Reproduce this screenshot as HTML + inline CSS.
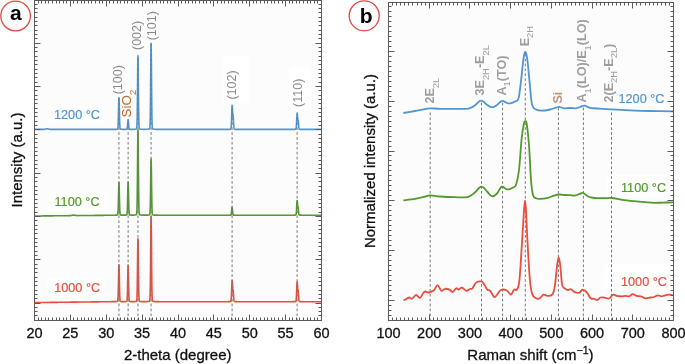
<!DOCTYPE html>
<html><head><meta charset="utf-8"><style>
html,body{margin:0;padding:0;background:#fff;width:685px;height:364px;overflow:hidden}
svg{display:block;will-change:transform}
text{font-family:"Liberation Sans",sans-serif}
</style></head><body>
<svg width="685" height="364" viewBox="0 0 685 364" font-family="Liberation Sans, sans-serif">
<rect width="685" height="364" fill="#fff"/>
<rect x="34.5" y="0.5" width="287" height="320" fill="#fcfcfc"/>
<rect x="388.5" y="2.5" width="285" height="318" fill="#fcfcfc"/>
<rect x="47.6" y="106.1" width="56.2" height="17.5" fill="#fff"/><rect x="47.7" y="191.7" width="58.4" height="19.3" fill="#fff"/><rect x="47.5" y="278.5" width="57.0" height="18.5" fill="#fff"/><rect x="223.2" y="56.6" width="25.6" height="46.2" fill="#fff"/><rect x="289" y="67.4" width="21.5" height="42.1" fill="#fff"/><rect x="606.4" y="175.2" width="60.2" height="21.8" fill="#fff"/><rect x="603.8" y="264.3" width="64.2" height="24.7" fill="#fff"/>
<path d="M35.00 129.40L35.50 129.40L36.00 129.40L36.50 129.40L37.00 129.40L37.50 129.40L38.00 129.40L38.50 129.40L39.00 129.40L39.50 129.40L40.00 129.40L40.50 129.40L41.00 129.40L41.50 129.40L42.00 129.40L42.50 129.40L43.00 129.39L43.50 129.37L44.00 129.34L44.50 129.28L45.00 129.19L45.50 129.08L46.00 128.96L46.50 128.86L47.00 128.80L47.50 128.81L48.00 128.88L48.50 128.99L49.00 129.11L49.50 129.21L50.00 129.29L50.50 129.35L51.00 129.38L51.50 129.39L52.00 129.40L52.50 129.40L53.00 129.40L53.50 129.40L54.00 129.40L54.50 129.40L55.00 129.40L55.50 129.40L56.00 129.40L56.50 129.40L57.00 129.40L57.50 129.40L58.00 129.40L58.50 129.40L59.00 129.40L59.50 129.40L60.00 129.40L60.50 129.40L61.00 129.40L61.50 129.40L62.00 129.40L62.50 129.40L63.00 129.40L63.50 129.40L64.00 129.40L64.50 129.40L65.00 129.40L65.50 129.40L66.00 129.40L66.50 129.40L67.00 129.40L67.50 129.40L68.00 129.40L68.50 129.40L69.00 129.40L69.50 129.40L70.00 129.40L70.50 129.40L71.00 129.40L71.50 129.40L72.00 129.40L72.50 129.40L73.00 129.40L73.50 129.40L74.00 129.40L74.50 129.40L75.00 129.40L75.50 129.40L76.00 129.40L76.50 129.40L77.00 129.40L77.50 129.40L78.00 129.40L78.50 129.40L79.00 129.40L79.50 129.40L80.00 129.40L80.50 129.40L81.00 129.40L81.50 129.40L82.00 129.40L82.50 129.40L83.00 129.40L83.50 129.40L84.00 129.40L84.50 129.40L85.00 129.40L85.50 129.40L86.00 129.40L86.50 129.40L87.00 129.40L87.50 129.40L88.00 129.40L88.50 129.40L89.00 129.40L89.50 129.40L90.00 129.40L90.50 129.40L91.00 129.40L91.50 129.40L92.00 129.40L92.50 129.40L93.00 129.40L93.50 129.40L94.00 129.40L94.50 129.40L95.00 129.40L95.50 129.40L96.00 129.40L96.50 129.40L97.00 129.40L97.50 129.40L98.00 129.40L98.50 129.40L99.00 129.40L99.50 129.40L100.00 129.40L100.50 129.40L101.00 129.40L101.50 129.40L102.00 129.40L102.50 129.40L103.00 129.40L103.50 129.40L104.00 129.40L104.50 129.40L105.00 129.39L105.50 129.39L106.00 129.39L106.50 129.39L107.00 129.39L107.50 129.39L108.00 129.39L108.50 129.39L109.00 129.39L109.50 129.39L110.00 129.39L110.50 129.39L111.00 129.39L111.50 129.39L112.00 129.39L112.50 129.38L113.00 129.38L113.50 129.38L114.00 129.37L114.50 129.37L114.95 129.36L115.00 129.36L115.05 129.36L115.15 129.36L115.25 129.36L115.35 129.35L115.45 129.35L115.50 129.35L115.55 129.35L115.65 129.35L115.75 129.34L115.85 129.34L115.95 129.34L116.00 129.33L116.05 129.33L116.15 129.33L116.25 129.32L116.35 129.32L116.45 129.31L116.50 129.31L116.55 129.30L116.65 129.30L116.75 129.29L116.85 129.28L116.95 129.26L117.00 129.26L117.05 129.25L117.15 129.23L117.25 129.21L117.35 129.18L117.45 129.12L117.50 129.08L117.55 129.03L117.65 128.87L117.75 128.57L117.85 128.07L117.95 127.23L118.00 126.64L118.05 125.92L118.15 123.99L118.25 121.34L118.35 117.92L118.45 113.86L118.50 111.66L118.55 109.42L118.65 105.06L118.75 101.33L118.85 98.79L118.95 97.89L119.00 98.12L119.05 98.80L119.15 101.34L119.25 105.08L119.35 109.45L119.45 113.88L119.50 115.98L119.55 117.94L119.65 121.35L119.75 124.00L119.85 125.93L119.95 127.23L120.00 127.70L120.05 128.07L120.15 128.57L120.25 128.86L120.35 129.03L120.45 129.12L120.50 129.15L120.55 129.17L120.65 129.21L120.75 129.23L120.85 129.25L120.95 129.26L121.00 129.27L121.05 129.27L121.15 129.28L121.25 129.29L121.35 129.30L121.45 129.30L121.50 129.31L121.55 129.31L121.65 129.32L121.75 129.32L121.85 129.33L121.95 129.33L122.00 129.33L122.05 129.33L122.15 129.34L122.25 129.34L122.35 129.34L122.45 129.34L122.50 129.34L122.55 129.35L122.65 129.35L122.75 129.35L122.85 129.35L122.95 129.35L123.00 129.35L123.50 129.36L124.00 129.36L124.13 129.36L124.23 129.36L124.33 129.36L124.43 129.36L124.50 129.36L124.53 129.36L124.63 129.36L124.73 129.36L124.83 129.36L124.93 129.36L125.00 129.36L125.03 129.36L125.13 129.36L125.23 129.36L125.33 129.35L125.43 129.35L125.50 129.35L125.53 129.35L125.63 129.35L125.73 129.35L125.83 129.35L125.93 129.34L126.00 129.34L126.03 129.34L126.13 129.34L126.23 129.33L126.33 129.33L126.43 129.32L126.50 129.31L126.53 129.31L126.63 129.29L126.73 129.27L126.83 129.22L126.93 129.13L127.00 129.03L127.03 128.97L127.13 128.72L127.23 128.32L127.33 127.73L127.43 126.91L127.50 126.20L127.53 125.86L127.63 124.60L127.73 123.22L127.83 121.86L127.93 120.69L128.00 120.07L128.03 119.88L128.13 119.58L128.23 119.84L128.33 120.61L128.43 121.76L128.50 122.70L128.53 123.12L128.63 124.50L128.73 125.77L128.83 126.84L128.93 127.67L129.00 128.12L129.03 128.28L129.13 128.69L129.23 128.95L129.33 129.11L129.43 129.21L129.50 129.25L129.53 129.26L129.63 129.29L129.73 129.31L129.83 129.32L129.93 129.32L130.00 129.33L130.03 129.33L130.13 129.33L130.23 129.33L130.33 129.34L130.43 129.34L130.50 129.34L130.53 129.34L130.63 129.34L130.73 129.34L130.83 129.34L130.93 129.35L131.00 129.35L131.03 129.35L131.13 129.35L131.23 129.35L131.33 129.35L131.43 129.35L131.50 129.35L131.53 129.35L131.63 129.35L131.73 129.35L131.83 129.35L131.93 129.35L132.00 129.35L132.03 129.35L132.13 129.34L132.50 129.34L133.00 129.33L133.50 129.32L133.96 129.31L134.00 129.31L134.06 129.30L134.16 129.30L134.26 129.30L134.36 129.29L134.46 129.29L134.50 129.28L134.56 129.28L134.66 129.27L134.76 129.27L134.86 129.26L134.96 129.25L135.00 129.25L135.06 129.24L135.16 129.23L135.26 129.22L135.36 129.21L135.46 129.19L135.50 129.18L135.56 129.17L135.66 129.16L135.76 129.14L135.86 129.11L135.96 129.09L136.00 129.07L136.06 129.05L136.16 129.01L136.26 128.96L136.36 128.89L136.46 128.76L136.50 128.69L136.56 128.55L136.66 128.17L136.76 127.50L136.86 126.34L136.96 124.42L137.00 123.37L137.06 121.41L137.16 116.97L137.26 110.83L137.36 102.91L137.46 93.47L137.50 89.39L137.56 83.12L137.66 72.90L137.76 64.10L137.86 58.05L137.96 55.79L138.00 56.07L138.06 57.76L138.16 63.57L138.26 72.23L138.36 82.39L138.46 92.76L138.50 96.72L138.56 102.29L138.66 110.33L138.76 116.60L138.86 121.15L138.96 124.25L139.00 125.16L139.06 126.23L139.16 127.44L139.26 128.14L139.36 128.53L139.46 128.75L139.50 128.81L139.56 128.88L139.66 128.95L139.76 129.01L139.86 129.05L139.96 129.08L140.00 129.09L140.06 129.11L140.16 129.13L140.26 129.15L140.36 129.17L140.46 129.19L140.50 129.19L140.56 129.20L140.66 129.21L140.76 129.22L140.86 129.23L140.96 129.24L141.00 129.25L141.06 129.25L141.16 129.26L141.26 129.27L141.36 129.27L141.46 129.28L141.50 129.28L141.56 129.28L141.66 129.29L141.76 129.29L141.86 129.30L141.96 129.30L142.00 129.30L142.50 129.32L143.00 129.32L143.50 129.33L144.00 129.33L144.50 129.33L145.00 129.33L145.50 129.33L146.00 129.32L146.50 129.31L147.00 129.29L147.09 129.29L147.19 129.29L147.29 129.28L147.39 129.28L147.49 129.27L147.50 129.27L147.59 129.26L147.69 129.26L147.79 129.25L147.89 129.24L147.99 129.23L148.00 129.23L148.09 129.22L148.19 129.21L148.29 129.20L148.39 129.19L148.49 129.17L148.50 129.17L148.59 129.16L148.69 129.14L148.79 129.12L148.89 129.09L148.99 129.07L149.00 129.06L149.09 129.03L149.19 129.00L149.29 128.95L149.39 128.89L149.49 128.80L149.50 128.79L149.59 128.66L149.69 128.41L149.79 127.97L149.89 127.18L149.99 125.83L150.00 125.65L150.09 123.58L150.19 120.06L150.29 114.86L150.39 107.67L150.49 98.41L150.50 97.37L150.59 87.35L150.69 75.24L150.79 63.27L150.89 52.95L150.99 45.85L151.00 45.37L151.09 43.20L151.19 45.48L151.29 52.29L151.39 62.42L151.49 74.32L151.50 75.54L151.59 86.46L151.69 97.64L151.79 107.05L151.89 114.40L151.99 119.73L152.00 120.17L152.09 123.37L152.19 125.70L152.29 127.11L152.39 127.93L152.49 128.39L152.50 128.42L152.59 128.65L152.69 128.80L152.79 128.89L152.89 128.95L152.99 129.00L153.00 129.00L153.09 129.04L153.19 129.07L153.29 129.10L153.39 129.12L153.49 129.14L153.50 129.14L153.59 129.16L153.69 129.18L153.79 129.19L153.89 129.21L153.99 129.22L154.00 129.22L154.09 129.23L154.19 129.24L154.29 129.25L154.39 129.26L154.49 129.27L154.50 129.27L154.59 129.27L154.69 129.28L154.79 129.29L154.89 129.29L154.99 129.30L155.00 129.30L155.09 129.30L155.50 129.32L156.00 129.33L156.50 129.34L157.00 129.35L157.50 129.36L158.00 129.36L158.50 129.37L159.00 129.37L159.50 129.38L160.00 129.38L160.50 129.38L161.00 129.38L161.50 129.38L162.00 129.38L162.50 129.39L163.00 129.39L163.50 129.39L164.00 129.39L164.50 129.39L165.00 129.39L165.50 129.39L166.00 129.39L166.50 129.39L167.00 129.39L167.50 129.39L168.00 129.39L168.50 129.39L169.00 129.39L169.50 129.39L170.00 129.39L170.50 129.39L171.00 129.39L171.50 129.39L172.00 129.39L172.50 129.40L173.00 129.40L173.50 129.40L174.00 129.40L174.50 129.40L175.00 129.40L175.50 129.40L176.00 129.40L176.50 129.40L177.00 129.40L177.50 129.40L178.00 129.40L178.50 129.40L179.00 129.40L179.50 129.40L180.00 129.40L180.50 129.40L181.00 129.40L181.50 129.40L182.00 129.40L182.50 129.40L183.00 129.40L183.50 129.40L184.00 129.40L184.50 129.40L185.00 129.40L185.50 129.40L186.00 129.40L186.50 129.40L187.00 129.40L187.50 129.40L188.00 129.40L188.50 129.40L189.00 129.40L189.50 129.40L190.00 129.40L190.50 129.40L191.00 129.40L191.50 129.40L192.00 129.40L192.50 129.40L193.00 129.40L193.50 129.40L194.00 129.40L194.50 129.40L195.00 129.40L195.50 129.40L196.00 129.40L196.50 129.40L197.00 129.40L197.50 129.40L198.00 129.40L198.50 129.40L199.00 129.40L199.50 129.40L200.00 129.40L200.50 129.40L201.00 129.40L201.50 129.40L202.00 129.40L202.50 129.40L203.00 129.40L203.50 129.40L204.00 129.40L204.50 129.40L205.00 129.40L205.50 129.40L206.00 129.40L206.50 129.40L207.00 129.40L207.50 129.40L208.00 129.40L208.50 129.40L209.00 129.40L209.50 129.40L210.00 129.40L210.50 129.40L211.00 129.40L211.50 129.40L212.00 129.40L212.50 129.40L213.00 129.40L213.50 129.40L214.00 129.40L214.50 129.40L215.00 129.40L215.50 129.40L216.00 129.40L216.50 129.40L217.00 129.40L217.50 129.40L218.00 129.40L218.50 129.40L219.00 129.40L219.50 129.40L220.00 129.40L220.50 129.39L221.00 129.39L221.50 129.39L222.00 129.39L222.50 129.39L223.00 129.39L223.50 129.39L224.00 129.39L224.50 129.39L225.00 129.39L225.50 129.39L226.00 129.38L226.50 129.38L227.00 129.38L227.50 129.37L228.00 129.37L228.10 129.37L228.20 129.36L228.30 129.36L228.40 129.36L228.50 129.36L228.60 129.36L228.70 129.35L228.80 129.35L228.90 129.35L229.00 129.35L229.10 129.34L229.20 129.34L229.30 129.33L229.40 129.33L229.50 129.32L229.60 129.32L229.70 129.31L229.80 129.31L229.90 129.30L230.00 129.29L230.10 129.28L230.20 129.27L230.30 129.25L230.40 129.23L230.50 129.21L230.60 129.17L230.70 129.09L230.80 128.97L230.90 128.75L231.00 128.37L231.10 127.74L231.20 126.77L231.30 125.34L231.40 123.36L231.50 120.82L231.60 117.79L231.70 114.48L231.80 111.19L231.90 108.31L232.00 106.24L232.10 105.24L232.20 105.40L232.30 106.52L232.40 108.24L232.50 110.12L232.60 111.79L232.70 113.04L232.80 113.84L232.90 114.33L233.00 114.75L233.10 115.36L233.20 116.34L233.30 117.72L233.40 119.41L233.50 121.26L233.60 123.07L233.70 124.72L233.80 126.09L233.90 127.15L234.00 127.93L234.10 128.45L234.20 128.79L234.30 129.00L234.40 129.12L234.50 129.19L234.60 129.23L234.70 129.26L234.80 129.27L234.90 129.29L235.00 129.30L235.10 129.30L235.20 129.31L235.30 129.32L235.40 129.32L235.50 129.33L235.60 129.33L235.70 129.34L235.80 129.34L235.90 129.34L236.00 129.35L236.10 129.35L236.50 129.36L237.00 129.37L237.50 129.37L238.00 129.38L238.50 129.38L239.00 129.38L239.50 129.39L240.00 129.39L240.50 129.39L241.00 129.39L241.50 129.39L242.00 129.39L242.50 129.39L243.00 129.39L243.50 129.39L244.00 129.39L244.50 129.40L245.00 129.40L245.50 129.40L246.00 129.40L246.50 129.40L247.00 129.40L247.50 129.40L248.00 129.40L248.50 129.40L249.00 129.40L249.50 129.40L250.00 129.40L250.50 129.40L251.00 129.40L251.50 129.40L252.00 129.40L252.50 129.40L253.00 129.40L253.50 129.40L254.00 129.40L254.50 129.40L255.00 129.40L255.50 129.40L256.00 129.40L256.50 129.40L257.00 129.40L257.50 129.40L258.00 129.40L258.50 129.40L259.00 129.40L259.50 129.40L260.00 129.40L260.50 129.40L261.00 129.40L261.50 129.40L262.00 129.40L262.50 129.40L263.00 129.40L263.50 129.40L264.00 129.40L264.50 129.40L265.00 129.40L265.50 129.40L266.00 129.40L266.50 129.40L267.00 129.40L267.50 129.40L268.00 129.40L268.50 129.40L269.00 129.40L269.50 129.40L270.00 129.40L270.50 129.40L271.00 129.40L271.50 129.40L272.00 129.40L272.50 129.40L273.00 129.40L273.50 129.40L274.00 129.40L274.50 129.40L275.00 129.40L275.50 129.40L276.00 129.40L276.50 129.40L277.00 129.40L277.50 129.40L278.00 129.40L278.50 129.40L279.00 129.40L279.50 129.40L280.00 129.40L280.50 129.40L281.00 129.40L281.50 129.40L282.00 129.40L282.50 129.40L283.00 129.40L283.50 129.40L284.00 129.40L284.50 129.40L285.00 129.40L285.50 129.40L286.00 129.40L286.50 129.40L287.00 129.40L287.50 129.40L288.00 129.39L288.50 129.39L289.00 129.39L289.50 129.39L290.00 129.39L290.50 129.39L291.00 129.39L291.50 129.39L292.00 129.39L292.50 129.38L293.00 129.38L293.11 129.38L293.21 129.38L293.31 129.37L293.41 129.37L293.50 129.37L293.61 129.37L293.71 129.37L293.81 129.37L293.91 129.37L294.00 129.36L294.11 129.36L294.21 129.36L294.31 129.36L294.41 129.35L294.50 129.35L294.61 129.35L294.71 129.34L294.81 129.34L294.91 129.33L295.00 129.33L295.11 129.32L295.21 129.31L295.31 129.30L295.41 129.29L295.50 129.27L295.61 129.24L295.71 129.19L295.81 129.10L295.91 128.95L296.00 128.72L296.11 128.25L296.21 127.58L296.31 126.59L296.41 125.24L296.50 123.69L296.61 121.43L296.71 119.18L296.81 116.96L296.91 115.03L297.00 113.76L297.11 113.03L297.21 113.18L297.31 113.98L297.41 115.18L297.50 116.35L297.61 117.64L297.71 118.51L297.81 119.08L297.91 119.43L298.00 119.71L298.11 120.17L298.21 120.84L298.31 121.76L298.41 122.89L298.50 123.98L298.61 125.29L298.71 126.37L298.81 127.26L298.91 127.95L299.00 128.41L299.11 128.79L299.21 129.00L299.31 129.14L299.41 129.22L299.50 129.26L299.61 129.29L299.71 129.30L299.81 129.32L299.91 129.32L300.00 129.33L300.11 129.34L300.21 129.34L300.31 129.35L300.41 129.35L300.50 129.35L300.61 129.36L300.71 129.36L300.81 129.36L300.91 129.36L301.00 129.37L301.11 129.37L301.50 129.37L302.00 129.38L302.50 129.38L303.00 129.39L303.50 129.39L304.00 129.39L304.50 129.39L305.00 129.39L305.50 129.39L306.00 129.39L306.50 129.39L307.00 129.40L307.50 129.40L308.00 129.40L308.50 129.40L309.00 129.40L309.50 129.40L310.00 129.40L310.50 129.40L311.00 129.40L311.50 129.40L312.00 129.40L312.50 129.40L313.00 129.40L313.50 129.40L314.00 129.40L314.50 129.40L315.00 129.40L315.50 129.40L316.00 129.40L316.50 129.40L317.00 129.40L317.50 129.40L318.00 129.40L318.50 129.40L319.00 129.40L319.50 129.40L320.00 129.40L320.50 129.40L321.00 129.40" stroke="#4f96d3" stroke-width="1.6" fill="none" stroke-linejoin="round"/>
<path d="M35.00 216.00L35.50 215.99L36.00 215.99L36.50 215.99L37.00 215.98L37.50 215.98L38.00 215.97L38.50 215.97L39.00 215.96L39.50 215.96L40.00 215.95L40.50 215.95L41.00 215.94L41.50 215.94L42.00 215.93L42.50 215.93L43.00 215.92L43.50 215.92L44.00 215.91L44.50 215.91L45.00 215.90L45.50 215.90L46.00 215.89L46.50 215.89L47.00 215.88L47.50 215.88L48.00 215.87L48.50 215.87L49.00 215.86L49.50 215.86L50.00 215.85L50.50 215.85L51.00 215.85L51.50 215.84L52.00 215.84L52.50 215.83L53.00 215.83L53.50 215.82L54.00 215.82L54.50 215.81L55.00 215.81L55.50 215.80L56.00 215.80L56.50 215.79L57.00 215.79L57.50 215.78L58.00 215.78L58.50 215.77L59.00 215.77L59.50 215.76L60.00 215.76L60.50 215.75L61.00 215.75L61.50 215.74L62.00 215.74L62.50 215.73L63.00 215.73L63.50 215.72L64.00 215.72L64.50 215.71L65.00 215.71L65.50 215.71L66.00 215.70L66.50 215.70L67.00 215.69L67.50 215.69L68.00 215.68L68.50 215.67L69.00 215.67L69.50 215.65L70.00 215.63L70.50 215.59L71.00 215.53L71.50 215.44L72.00 215.34L72.50 215.24L73.00 215.16L73.50 215.13L74.00 215.15L74.50 215.22L75.00 215.31L75.50 215.40L76.00 215.48L76.50 215.53L77.00 215.56L77.50 215.57L78.00 215.58L78.50 215.58L79.00 215.57L79.50 215.57L80.00 215.56L80.50 215.56L81.00 215.56L81.50 215.55L82.00 215.55L82.50 215.54L83.00 215.54L83.50 215.53L84.00 215.53L84.50 215.52L85.00 215.52L85.50 215.51L86.00 215.51L86.50 215.50L87.00 215.50L87.50 215.49L88.00 215.49L88.50 215.48L89.00 215.48L89.50 215.47L90.00 215.47L90.50 215.46L91.00 215.46L91.50 215.45L92.00 215.45L92.50 215.44L93.00 215.44L93.50 215.43L94.00 215.43L94.50 215.42L95.00 215.42L95.50 215.41L96.00 215.41L96.50 215.40L97.00 215.40L97.50 215.39L98.00 215.39L98.50 215.38L99.00 215.38L99.50 215.37L100.00 215.37L100.50 215.36L101.00 215.36L101.50 215.35L102.00 215.35L102.50 215.34L103.00 215.34L103.50 215.33L104.00 215.33L104.50 215.32L105.00 215.32L105.50 215.31L106.00 215.31L106.50 215.30L107.00 215.30L107.50 215.29L108.00 215.29L108.50 215.28L109.00 215.28L109.50 215.27L110.00 215.27L110.50 215.26L111.00 215.25L111.50 215.25L112.00 215.24L112.50 215.23L113.00 215.23L113.50 215.22L114.00 215.21L114.50 215.20L114.95 215.19L115.00 215.19L115.05 215.18L115.15 215.18L115.25 215.18L115.35 215.17L115.45 215.17L115.50 215.17L115.55 215.17L115.65 215.16L115.75 215.16L115.85 215.15L115.95 215.15L116.00 215.15L116.05 215.14L116.15 215.14L116.25 215.13L116.35 215.13L116.45 215.12L116.50 215.11L116.55 215.11L116.65 215.10L116.75 215.09L116.85 215.08L116.95 215.07L117.00 215.06L117.05 215.05L117.15 215.03L117.25 215.01L117.35 214.97L117.45 214.91L117.50 214.87L117.55 214.82L117.65 214.65L117.75 214.34L117.85 213.81L117.95 212.94L118.00 212.33L118.05 211.58L118.15 209.58L118.25 206.83L118.35 203.28L118.45 199.06L118.50 196.78L118.55 194.46L118.65 189.93L118.75 186.06L118.85 183.42L118.95 182.49L119.00 182.73L119.05 183.43L119.15 186.07L119.25 189.95L119.35 194.48L119.45 199.08L119.50 201.26L119.55 203.30L119.65 206.84L119.75 209.59L119.85 211.59L119.95 212.94L120.00 213.43L120.05 213.81L120.15 214.33L120.25 214.64L120.35 214.81L120.45 214.90L120.50 214.93L120.55 214.96L120.65 214.99L120.75 215.02L120.85 215.03L120.95 215.05L121.00 215.05L121.05 215.06L121.15 215.07L121.25 215.08L121.35 215.09L121.45 215.09L121.50 215.10L121.55 215.10L121.65 215.10L121.75 215.11L121.85 215.11L121.95 215.12L122.00 215.12L122.05 215.12L122.15 215.12L122.25 215.12L122.35 215.13L122.45 215.13L122.50 215.13L122.55 215.13L122.65 215.13L122.75 215.13L122.85 215.13L122.95 215.14L123.00 215.14L123.50 215.14L124.00 215.14L124.13 215.13L124.23 215.13L124.33 215.13L124.43 215.13L124.50 215.13L124.53 215.13L124.63 215.13L124.73 215.12L124.83 215.12L124.93 215.12L125.00 215.12L125.03 215.12L125.13 215.11L125.23 215.11L125.33 215.10L125.43 215.10L125.50 215.09L125.53 215.09L125.63 215.09L125.73 215.08L125.83 215.07L125.93 215.06L126.00 215.06L126.03 215.05L126.13 215.04L126.23 215.03L126.33 215.01L126.43 214.98L126.50 214.96L126.53 214.95L126.63 214.89L126.73 214.80L126.83 214.63L126.93 214.33L127.00 213.99L127.03 213.80L127.13 212.94L127.23 211.58L127.33 209.58L127.43 206.81L127.50 204.40L127.53 203.24L127.63 198.98L127.73 194.32L127.83 189.71L127.93 185.73L128.00 183.66L128.03 183.00L128.13 181.98L128.23 182.86L128.33 185.48L128.43 189.38L128.50 192.55L128.53 193.96L128.63 198.64L128.73 202.94L128.83 206.57L128.93 209.40L129.00 210.91L129.03 211.45L129.13 212.85L129.23 213.75L129.33 214.29L129.43 214.61L129.50 214.74L129.53 214.78L129.63 214.88L129.73 214.94L129.83 214.98L129.93 215.00L130.00 215.01L130.03 215.02L130.13 215.03L130.23 215.04L130.33 215.05L130.43 215.06L130.50 215.07L130.53 215.07L130.63 215.08L130.73 215.08L130.83 215.09L130.93 215.09L131.00 215.09L131.03 215.10L131.13 215.10L131.23 215.10L131.33 215.10L131.43 215.11L131.50 215.11L131.53 215.11L131.63 215.11L131.73 215.11L131.83 215.11L131.93 215.11L132.00 215.11L132.03 215.11L132.13 215.11L132.50 215.11L133.00 215.11L133.50 215.10L133.96 215.09L134.00 215.08L134.06 215.08L134.16 215.08L134.26 215.07L134.36 215.07L134.46 215.06L134.50 215.06L134.56 215.05L134.66 215.05L134.76 215.04L134.86 215.03L134.96 215.02L135.00 215.02L135.06 215.01L135.16 215.00L135.26 214.99L135.36 214.97L135.46 214.95L135.50 214.95L135.56 214.94L135.66 214.92L135.76 214.89L135.86 214.86L135.96 214.83L136.00 214.82L136.06 214.80L136.16 214.75L136.26 214.69L136.36 214.60L136.46 214.46L136.50 214.38L136.56 214.22L136.66 213.78L136.76 213.00L136.86 211.66L136.96 209.44L137.00 208.22L137.06 205.95L137.16 200.81L137.26 193.70L137.36 184.54L137.46 173.60L137.50 168.88L137.56 161.63L137.66 149.80L137.76 139.61L137.86 132.60L137.96 129.99L138.00 130.32L138.06 132.27L138.16 139.00L138.26 149.02L138.36 160.78L138.46 172.79L138.50 177.37L138.56 183.82L138.66 193.13L138.76 200.38L138.86 205.65L138.96 209.24L139.00 210.29L139.06 211.54L139.16 212.93L139.26 213.74L139.36 214.19L139.46 214.45L139.50 214.52L139.56 214.60L139.66 214.69L139.76 214.75L139.86 214.80L139.96 214.83L140.00 214.85L140.06 214.87L140.16 214.89L140.26 214.92L140.36 214.94L140.46 214.96L140.50 214.96L140.56 214.97L140.66 214.99L140.76 215.00L140.86 215.01L140.96 215.02L141.00 215.03L141.06 215.03L141.16 215.04L141.26 215.05L141.36 215.06L141.46 215.07L141.50 215.07L141.56 215.07L141.66 215.08L141.76 215.08L141.86 215.09L141.96 215.09L142.00 215.09L142.50 215.11L143.00 215.12L143.50 215.13L144.00 215.14L144.50 215.14L145.00 215.14L145.50 215.14L146.00 215.14L146.50 215.13L147.00 215.12L147.09 215.12L147.19 215.12L147.29 215.11L147.39 215.11L147.49 215.11L147.50 215.11L147.59 215.10L147.69 215.10L147.79 215.09L147.89 215.09L147.99 215.08L148.00 215.08L148.09 215.08L148.19 215.07L148.29 215.06L148.39 215.05L148.49 215.04L148.50 215.04L148.59 215.03L148.69 215.02L148.79 215.01L148.89 214.99L148.99 214.98L149.00 214.97L149.09 214.95L149.19 214.93L149.29 214.90L149.39 214.86L149.49 214.80L149.50 214.80L149.59 214.71L149.69 214.55L149.79 214.26L149.89 213.75L149.99 212.86L150.00 212.75L150.09 211.40L150.19 209.10L150.29 205.72L150.39 201.03L150.49 194.99L150.50 194.31L150.59 187.78L150.69 179.88L150.79 172.08L150.89 165.35L150.99 160.72L151.00 160.41L151.09 158.99L151.19 160.48L151.29 164.92L151.39 171.52L151.49 179.28L151.50 180.08L151.59 187.20L151.69 194.49L151.79 200.62L151.89 205.41L151.99 208.89L152.00 209.18L152.09 211.26L152.19 212.78L152.29 213.70L152.39 214.24L152.49 214.54L152.50 214.56L152.59 214.70L152.69 214.80L152.79 214.86L152.89 214.90L152.99 214.93L153.00 214.94L153.09 214.96L153.19 214.98L153.29 215.00L153.39 215.01L153.49 215.03L153.50 215.03L153.59 215.04L153.69 215.05L153.79 215.06L153.89 215.07L153.99 215.08L154.00 215.08L154.09 215.09L154.19 215.09L154.29 215.10L154.39 215.10L154.49 215.11L154.50 215.11L154.59 215.11L154.69 215.12L154.79 215.12L154.89 215.13L154.99 215.13L155.00 215.13L155.09 215.13L155.50 215.14L156.00 215.15L156.50 215.16L157.00 215.17L157.50 215.17L158.00 215.17L158.50 215.18L159.00 215.18L159.50 215.18L160.00 215.18L160.50 215.19L161.00 215.19L161.50 215.19L162.00 215.19L162.50 215.19L163.00 215.19L163.50 215.19L164.00 215.19L164.50 215.19L165.00 215.19L165.50 215.19L166.00 215.19L166.50 215.19L167.00 215.19L167.50 215.19L168.00 215.19L168.50 215.19L169.00 215.19L169.50 215.19L170.00 215.20L170.50 215.20L171.00 215.20L171.50 215.20L172.00 215.20L172.50 215.20L173.00 215.20L173.50 215.20L174.00 215.20L174.50 215.20L175.00 215.20L175.50 215.20L176.00 215.20L176.50 215.20L177.00 215.20L177.50 215.20L178.00 215.20L178.50 215.20L179.00 215.20L179.50 215.20L180.00 215.20L180.50 215.20L181.00 215.20L181.50 215.20L182.00 215.20L182.50 215.20L183.00 215.20L183.50 215.20L184.00 215.20L184.50 215.20L185.00 215.20L185.50 215.20L186.00 215.20L186.50 215.20L187.00 215.20L187.50 215.20L188.00 215.20L188.50 215.20L189.00 215.20L189.50 215.20L190.00 215.20L190.50 215.20L191.00 215.20L191.50 215.20L192.00 215.20L192.50 215.20L193.00 215.20L193.50 215.20L194.00 215.20L194.50 215.20L195.00 215.20L195.50 215.20L196.00 215.20L196.50 215.20L197.00 215.20L197.50 215.20L198.00 215.20L198.50 215.20L199.00 215.20L199.50 215.20L200.00 215.20L200.50 215.20L201.00 215.20L201.50 215.20L202.00 215.20L202.50 215.20L203.00 215.20L203.50 215.20L204.00 215.20L204.50 215.20L205.00 215.20L205.50 215.20L206.00 215.20L206.50 215.20L207.00 215.20L207.50 215.20L208.00 215.20L208.50 215.20L209.00 215.20L209.50 215.20L210.00 215.20L210.50 215.20L211.00 215.20L211.50 215.20L212.00 215.20L212.50 215.20L213.00 215.20L213.50 215.20L214.00 215.20L214.50 215.20L215.00 215.20L215.50 215.20L216.00 215.20L216.50 215.20L217.00 215.20L217.50 215.20L218.00 215.20L218.50 215.20L219.00 215.20L219.50 215.20L220.00 215.20L220.50 215.20L221.00 215.20L221.50 215.20L222.00 215.20L222.50 215.20L223.00 215.20L223.50 215.20L224.00 215.20L224.50 215.20L225.00 215.20L225.50 215.20L226.00 215.20L226.50 215.20L227.00 215.19L227.50 215.19L228.00 215.19L228.10 215.19L228.20 215.19L228.30 215.19L228.40 215.19L228.50 215.19L228.60 215.19L228.70 215.19L228.80 215.19L228.90 215.19L229.00 215.19L229.10 215.18L229.20 215.18L229.30 215.18L229.40 215.18L229.50 215.18L229.60 215.18L229.70 215.18L229.80 215.17L229.90 215.17L230.00 215.17L230.10 215.17L230.20 215.16L230.30 215.16L230.40 215.15L230.50 215.14L230.60 215.13L230.70 215.11L230.80 215.07L230.90 214.99L231.00 214.86L231.10 214.65L231.20 214.32L231.30 213.83L231.40 213.15L231.50 212.28L231.60 211.25L231.70 210.13L231.80 209.02L231.90 208.07L232.00 207.43L232.10 207.20L232.20 207.43L232.30 208.08L232.40 209.03L232.50 210.14L232.60 211.26L232.70 212.29L232.80 213.16L232.90 213.83L233.00 214.32L233.10 214.65L233.20 214.86L233.30 214.99L233.40 215.07L233.50 215.11L233.60 215.13L233.70 215.14L233.80 215.15L233.90 215.16L234.00 215.16L234.10 215.17L234.20 215.17L234.30 215.17L234.40 215.17L234.50 215.18L234.60 215.18L234.70 215.18L234.80 215.18L234.90 215.18L235.00 215.18L235.10 215.18L235.20 215.19L235.30 215.19L235.40 215.19L235.50 215.19L235.60 215.19L235.70 215.19L235.80 215.19L235.90 215.19L236.00 215.19L236.10 215.19L236.50 215.19L237.00 215.19L237.50 215.19L238.00 215.20L238.50 215.20L239.00 215.20L239.50 215.20L240.00 215.20L240.50 215.20L241.00 215.20L241.50 215.20L242.00 215.20L242.50 215.20L243.00 215.20L243.50 215.20L244.00 215.20L244.50 215.20L245.00 215.20L245.50 215.20L246.00 215.20L246.50 215.20L247.00 215.20L247.50 215.20L248.00 215.20L248.50 215.20L249.00 215.20L249.50 215.20L250.00 215.20L250.50 215.20L251.00 215.20L251.50 215.20L252.00 215.20L252.50 215.20L253.00 215.20L253.50 215.20L254.00 215.20L254.50 215.20L255.00 215.20L255.50 215.20L256.00 215.20L256.50 215.20L257.00 215.20L257.50 215.20L258.00 215.20L258.50 215.20L259.00 215.20L259.50 215.20L260.00 215.20L260.50 215.20L261.00 215.20L261.50 215.20L262.00 215.20L262.50 215.20L263.00 215.20L263.50 215.20L264.00 215.20L264.50 215.20L265.00 215.20L265.50 215.20L266.00 215.20L266.50 215.20L267.00 215.20L267.50 215.20L268.00 215.20L268.50 215.20L269.00 215.20L269.50 215.20L270.00 215.20L270.50 215.20L271.00 215.20L271.50 215.20L272.00 215.20L272.50 215.20L273.00 215.20L273.50 215.20L274.00 215.20L274.50 215.20L275.00 215.20L275.50 215.20L276.00 215.20L276.50 215.20L277.00 215.20L277.50 215.20L278.00 215.20L278.50 215.20L279.00 215.20L279.50 215.20L280.00 215.20L280.50 215.20L281.00 215.20L281.50 215.20L282.00 215.20L282.50 215.20L283.00 215.20L283.50 215.20L284.00 215.20L284.50 215.20L285.00 215.20L285.50 215.20L286.00 215.20L286.50 215.20L287.00 215.20L287.50 215.20L288.00 215.20L288.50 215.20L289.00 215.19L289.50 215.19L290.00 215.19L290.50 215.19L291.00 215.19L291.50 215.19L292.00 215.19L292.50 215.18L293.00 215.18L293.11 215.18L293.21 215.18L293.31 215.18L293.41 215.18L293.50 215.18L293.61 215.17L293.71 215.17L293.81 215.17L293.91 215.17L294.00 215.17L294.11 215.17L294.21 215.16L294.31 215.16L294.41 215.16L294.50 215.16L294.61 215.15L294.71 215.15L294.81 215.14L294.91 215.14L295.00 215.13L295.11 215.13L295.21 215.12L295.31 215.11L295.41 215.10L295.50 215.09L295.61 215.06L295.71 215.01L295.81 214.94L295.91 214.80L296.00 214.59L296.11 214.17L296.21 213.57L296.31 212.68L296.41 211.46L296.50 210.07L296.61 208.04L296.71 206.02L296.81 204.02L296.91 202.30L297.00 201.16L297.11 200.51L297.21 200.67L297.31 201.41L297.41 202.52L297.50 203.62L297.61 204.83L297.71 205.67L297.81 206.24L297.91 206.61L298.00 206.88L298.11 207.31L298.21 207.90L298.31 208.70L298.41 209.66L298.50 210.59L298.61 211.71L298.71 212.62L298.81 213.38L298.91 213.96L299.00 214.35L299.11 214.68L299.21 214.86L299.31 214.97L299.41 215.04L299.50 215.08L299.61 215.10L299.71 215.12L299.81 215.13L299.91 215.13L300.00 215.14L300.11 215.14L300.21 215.15L300.31 215.15L300.41 215.16L300.50 215.16L300.61 215.16L300.71 215.16L300.81 215.17L300.91 215.17L301.00 215.17L301.11 215.17L301.50 215.18L302.00 215.18L302.50 215.19L303.00 215.19L303.50 215.19L304.00 215.19L304.50 215.19L305.00 215.19L305.50 215.19L306.00 215.19L306.50 215.20L307.00 215.20L307.50 215.20L308.00 215.20L308.50 215.20L309.00 215.20L309.50 215.20L310.00 215.20L310.50 215.20L311.00 215.20L311.50 215.20L312.00 215.20L312.50 215.20L313.00 215.20L313.50 215.20L314.00 215.20L314.50 215.20L315.00 215.20L315.50 215.20L316.00 215.20L316.50 215.20L317.00 215.20L317.50 215.20L318.00 215.20L318.50 215.20L319.00 215.20L319.50 215.20L320.00 215.20L320.50 215.20L321.00 215.20" stroke="#53992e" stroke-width="1.6" fill="none" stroke-linejoin="round"/>
<path d="M35.00 302.60L35.50 302.59L36.00 302.59L36.50 302.58L37.00 302.58L37.50 302.57L38.00 302.56L38.50 302.56L39.00 302.55L39.50 302.55L40.00 302.54L40.50 302.53L41.00 302.53L41.50 302.52L42.00 302.52L42.50 302.51L43.00 302.50L43.50 302.50L44.00 302.49L44.50 302.49L45.00 302.48L45.50 302.47L46.00 302.47L46.50 302.46L47.00 302.45L47.50 302.45L48.00 302.44L48.50 302.44L49.00 302.43L49.50 302.42L50.00 302.42L50.50 302.41L51.00 302.41L51.50 302.40L52.00 302.39L52.50 302.39L53.00 302.38L53.50 302.38L54.00 302.37L54.50 302.36L55.00 302.36L55.50 302.35L56.00 302.35L56.50 302.34L57.00 302.33L57.50 302.33L58.00 302.32L58.50 302.32L59.00 302.31L59.50 302.30L60.00 302.30L60.50 302.29L61.00 302.29L61.50 302.28L62.00 302.27L62.50 302.27L63.00 302.26L63.50 302.26L64.00 302.25L64.50 302.24L65.00 302.24L65.50 302.23L66.00 302.23L66.50 302.22L67.00 302.21L67.50 302.21L68.00 302.20L68.50 302.20L69.00 302.19L69.50 302.18L70.00 302.18L70.50 302.17L71.00 302.17L71.50 302.16L72.00 302.15L72.50 302.15L73.00 302.14L73.50 302.14L74.00 302.13L74.50 302.12L75.00 302.12L75.50 302.11L76.00 302.10L76.50 302.10L77.00 302.09L77.50 302.09L78.00 302.08L78.50 302.07L79.00 302.07L79.50 302.06L80.00 302.06L80.50 302.05L81.00 302.04L81.50 302.04L82.00 302.03L82.50 302.03L83.00 302.02L83.50 302.01L84.00 302.01L84.50 302.00L85.00 302.00L85.50 301.99L86.00 301.98L86.50 301.98L87.00 301.97L87.50 301.97L88.00 301.96L88.50 301.95L89.00 301.95L89.50 301.94L90.00 301.94L90.50 301.93L91.00 301.92L91.50 301.92L92.00 301.91L92.50 301.90L93.00 301.90L93.50 301.89L94.00 301.89L94.50 301.88L95.00 301.87L95.50 301.87L96.00 301.86L96.50 301.86L97.00 301.85L97.50 301.84L98.00 301.84L98.50 301.83L99.00 301.83L99.50 301.82L100.00 301.81L100.50 301.81L101.00 301.80L101.50 301.79L102.00 301.79L102.50 301.78L103.00 301.78L103.50 301.77L104.00 301.76L104.50 301.76L105.00 301.75L105.50 301.74L106.00 301.74L106.50 301.73L107.00 301.72L107.50 301.72L108.00 301.71L108.50 301.70L109.00 301.70L109.50 301.69L110.00 301.68L110.50 301.68L111.00 301.67L111.50 301.66L112.00 301.65L112.50 301.65L113.00 301.64L113.50 301.63L114.00 301.62L114.50 301.60L114.95 301.59L115.00 301.59L115.05 301.59L115.15 301.58L115.25 301.58L115.35 301.58L115.45 301.57L115.50 301.57L115.55 301.57L115.65 301.56L115.75 301.56L115.85 301.55L115.95 301.55L116.00 301.54L116.05 301.54L116.15 301.53L116.25 301.53L116.35 301.52L116.45 301.51L116.50 301.51L116.55 301.50L116.65 301.49L116.75 301.48L116.85 301.47L116.95 301.45L117.00 301.44L117.05 301.43L117.15 301.41L117.25 301.39L117.35 301.34L117.45 301.28L117.50 301.23L117.55 301.17L117.65 300.98L117.75 300.63L117.85 300.04L117.95 299.06L118.00 298.47L118.05 297.62L118.15 295.36L118.25 292.25L118.35 288.25L118.45 283.49L118.50 280.92L118.55 278.30L118.65 273.19L118.75 268.81L118.85 265.84L118.95 264.79L119.00 265.06L119.05 265.85L119.15 268.83L119.25 273.21L119.35 278.32L119.45 283.51L119.50 285.97L119.55 288.27L119.65 292.27L119.75 295.37L119.85 297.63L119.95 299.16L120.00 299.70L120.05 300.13L120.15 300.72L120.25 301.07L120.35 301.26L120.45 301.37L120.50 301.40L120.55 301.43L120.65 301.47L120.75 301.49L120.85 301.51L120.95 301.53L121.00 301.54L121.05 301.54L121.15 301.55L121.25 301.56L121.35 301.57L121.45 301.58L121.50 301.58L121.55 301.59L121.65 301.59L121.75 301.60L121.85 301.60L121.95 301.61L122.00 301.61L122.05 301.61L122.15 301.61L122.25 301.62L122.35 301.62L122.45 301.62L122.50 301.62L122.55 301.62L122.65 301.63L122.75 301.63L122.85 301.63L122.95 301.63L123.00 301.63L123.50 301.63L124.00 301.63L124.13 301.63L124.23 301.63L124.33 301.63L124.43 301.62L124.50 301.62L124.53 301.62L124.63 301.62L124.73 301.62L124.83 301.62L124.93 301.61L125.00 301.61L125.03 301.61L125.13 301.61L125.23 301.60L125.33 301.60L125.43 301.59L125.50 301.59L125.53 301.59L125.63 301.58L125.73 301.57L125.83 301.56L125.93 301.55L126.00 301.54L126.03 301.54L126.13 301.53L126.23 301.51L126.33 301.49L126.43 301.47L126.50 301.44L126.53 301.43L126.63 301.37L126.73 301.26L126.83 301.08L126.93 300.75L127.00 300.38L127.03 300.17L127.13 299.22L127.23 297.74L127.33 295.54L127.43 292.51L127.50 289.86L127.53 288.60L127.63 283.92L127.73 278.81L127.83 273.76L127.93 269.40L128.00 267.12L128.03 266.40L128.13 265.28L128.23 266.25L128.33 269.12L128.43 273.40L128.50 276.87L128.53 278.42L128.63 283.55L128.73 288.27L128.83 292.24L128.93 295.34L129.00 297.00L129.03 297.60L129.13 299.13L129.23 300.11L129.33 300.71L129.43 301.06L129.50 301.20L129.53 301.25L129.63 301.36L129.73 301.42L129.83 301.46L129.93 301.49L130.00 301.50L130.03 301.51L130.13 301.52L130.23 301.54L130.33 301.55L130.43 301.56L130.50 301.56L130.53 301.57L130.63 301.57L130.73 301.58L130.83 301.59L130.93 301.59L131.00 301.59L131.03 301.60L131.13 301.60L131.23 301.60L131.33 301.61L131.43 301.61L131.50 301.61L131.53 301.61L131.63 301.61L131.73 301.62L131.83 301.62L131.93 301.62L132.00 301.62L132.03 301.62L132.13 301.62L132.50 301.62L133.00 301.62L133.50 301.62L133.96 301.61L134.00 301.60L134.06 301.60L134.16 301.60L134.26 301.60L134.36 301.59L134.46 301.59L134.50 301.59L134.56 301.58L134.66 301.58L134.76 301.57L134.86 301.57L134.96 301.56L135.00 301.56L135.06 301.55L135.16 301.54L135.26 301.53L135.36 301.52L135.46 301.51L135.50 301.51L135.56 301.50L135.66 301.48L135.76 301.47L135.86 301.45L135.96 301.42L136.00 301.41L136.06 301.40L136.16 301.36L136.26 301.32L136.36 301.25L136.46 301.15L136.50 301.09L136.56 300.97L136.66 300.65L136.76 300.07L136.86 299.08L136.96 297.44L137.00 296.55L137.06 294.88L137.16 291.09L137.26 285.85L137.36 279.09L137.46 271.03L137.50 267.55L137.56 262.21L137.66 253.49L137.76 245.98L137.86 240.81L137.96 238.89L138.00 239.13L138.06 240.56L138.16 245.53L138.26 252.91L138.36 261.58L138.46 270.43L138.50 273.81L138.56 278.57L138.66 285.42L138.76 290.77L138.86 294.65L138.96 297.30L139.00 298.07L139.06 298.99L139.16 300.02L139.26 300.62L139.36 300.95L139.46 301.14L139.50 301.19L139.56 301.25L139.66 301.31L139.76 301.36L139.86 301.39L139.96 301.42L140.00 301.43L140.06 301.44L140.16 301.46L140.26 301.48L140.36 301.50L140.46 301.51L140.50 301.52L140.56 301.52L140.66 301.53L140.76 301.54L140.86 301.55L140.96 301.56L141.00 301.56L141.06 301.57L141.16 301.57L141.26 301.58L141.36 301.59L141.46 301.59L141.50 301.59L141.56 301.60L141.66 301.60L141.76 301.60L141.86 301.61L141.96 301.61L142.00 301.61L142.50 301.62L143.00 301.63L143.50 301.63L144.00 301.64L144.50 301.64L145.00 301.63L145.50 301.63L146.00 301.62L146.50 301.61L147.00 301.60L147.09 301.59L147.19 301.59L147.29 301.58L147.39 301.58L147.49 301.57L147.50 301.57L147.59 301.57L147.69 301.56L147.79 301.55L147.89 301.54L147.99 301.54L148.00 301.53L148.09 301.53L148.19 301.51L148.29 301.50L148.39 301.49L148.49 301.48L148.50 301.47L148.59 301.46L148.69 301.44L148.79 301.42L148.89 301.40L148.99 301.37L149.00 301.37L149.09 301.34L149.19 301.30L149.29 301.25L149.39 301.19L149.49 301.11L149.50 301.09L149.59 300.96L149.69 300.72L149.79 300.28L149.89 299.50L149.99 298.16L150.00 297.98L150.09 295.93L150.19 292.45L150.29 287.30L150.39 280.17L150.49 271.00L150.50 269.97L150.59 260.04L150.69 248.04L150.79 236.18L150.89 225.96L150.99 218.92L151.00 218.45L151.09 216.30L151.19 218.56L151.29 225.30L151.39 235.34L151.49 247.13L151.50 248.34L151.59 259.16L151.69 270.23L151.79 279.56L151.89 286.84L151.99 292.12L152.00 292.55L152.09 295.72L152.19 298.03L152.29 299.43L152.39 300.24L152.49 300.70L152.50 300.73L152.59 300.95L152.69 301.10L152.79 301.19L152.89 301.26L152.99 301.30L153.00 301.31L153.09 301.34L153.19 301.37L153.29 301.40L153.39 301.42L153.49 301.44L153.50 301.45L153.59 301.46L153.69 301.48L153.79 301.50L153.89 301.51L153.99 301.52L154.00 301.52L154.09 301.53L154.19 301.54L154.29 301.55L154.39 301.56L154.49 301.57L154.50 301.57L154.59 301.57L154.69 301.58L154.79 301.59L154.89 301.59L154.99 301.60L155.00 301.60L155.09 301.60L155.50 301.62L156.00 301.63L156.50 301.64L157.00 301.65L157.50 301.66L158.00 301.66L158.50 301.67L159.00 301.67L159.50 301.68L160.00 301.68L160.50 301.68L161.00 301.68L161.50 301.68L162.00 301.68L162.50 301.69L163.00 301.69L163.50 301.69L164.00 301.69L164.50 301.69L165.00 301.69L165.50 301.69L166.00 301.69L166.50 301.69L167.00 301.69L167.50 301.69L168.00 301.69L168.50 301.69L169.00 301.69L169.50 301.69L170.00 301.69L170.50 301.69L171.00 301.69L171.50 301.69L172.00 301.69L172.50 301.70L173.00 301.70L173.50 301.70L174.00 301.70L174.50 301.70L175.00 301.70L175.50 301.70L176.00 301.70L176.50 301.70L177.00 301.70L177.50 301.70L178.00 301.70L178.50 301.70L179.00 301.70L179.50 301.70L180.00 301.70L180.50 301.70L181.00 301.70L181.50 301.70L182.00 301.70L182.50 301.70L183.00 301.70L183.50 301.70L184.00 301.70L184.50 301.70L185.00 301.70L185.50 301.70L186.00 301.70L186.50 301.70L187.00 301.70L187.50 301.70L188.00 301.70L188.50 301.70L189.00 301.70L189.50 301.70L190.00 301.70L190.50 301.70L191.00 301.70L191.50 301.70L192.00 301.70L192.50 301.70L193.00 301.70L193.50 301.70L194.00 301.70L194.50 301.70L195.00 301.70L195.50 301.70L196.00 301.70L196.50 301.70L197.00 301.70L197.50 301.70L198.00 301.70L198.50 301.70L199.00 301.70L199.50 301.70L200.00 301.70L200.50 301.70L201.00 301.70L201.50 301.70L202.00 301.70L202.50 301.70L203.00 301.70L203.50 301.70L204.00 301.70L204.50 301.70L205.00 301.70L205.50 301.70L206.00 301.70L206.50 301.70L207.00 301.70L207.50 301.70L208.00 301.70L208.50 301.70L209.00 301.70L209.50 301.70L210.00 301.70L210.50 301.70L211.00 301.70L211.50 301.70L212.00 301.70L212.50 301.70L213.00 301.70L213.50 301.70L214.00 301.70L214.50 301.70L215.00 301.70L215.50 301.70L216.00 301.70L216.50 301.70L217.00 301.70L217.50 301.70L218.00 301.70L218.50 301.70L219.00 301.70L219.50 301.70L220.00 301.70L220.50 301.70L221.00 301.70L221.50 301.69L222.00 301.69L222.50 301.69L223.00 301.69L223.50 301.69L224.00 301.69L224.50 301.69L225.00 301.69L225.50 301.69L226.00 301.69L226.50 301.68L227.00 301.68L227.50 301.68L228.00 301.67L228.10 301.67L228.20 301.67L228.30 301.67L228.40 301.67L228.50 301.66L228.60 301.66L228.70 301.66L228.80 301.66L228.90 301.66L229.00 301.65L229.10 301.65L229.20 301.65L229.30 301.64L229.40 301.64L229.50 301.63L229.60 301.63L229.70 301.62L229.80 301.62L229.90 301.61L230.00 301.60L230.10 301.60L230.20 301.59L230.30 301.57L230.40 301.56L230.50 301.53L230.60 301.50L230.70 301.43L230.80 301.32L230.90 301.13L231.00 300.80L231.10 300.25L231.20 299.40L231.30 298.15L231.40 296.42L231.50 294.19L231.60 291.54L231.70 288.64L231.80 285.77L231.90 283.25L232.00 281.45L232.10 280.60L232.20 280.77L232.30 281.80L232.40 283.36L232.50 285.08L232.60 286.64L232.70 287.84L232.80 288.64L232.90 289.15L233.00 289.58L233.10 290.14L233.20 290.97L233.30 292.12L233.40 293.52L233.50 295.03L233.60 296.52L233.70 297.87L233.80 298.99L233.90 299.86L234.00 300.49L234.10 300.92L234.20 301.20L234.30 301.37L234.40 301.47L234.50 301.52L234.60 301.56L234.70 301.58L234.80 301.59L234.90 301.60L235.00 301.61L235.10 301.62L235.20 301.63L235.30 301.63L235.40 301.64L235.50 301.64L235.60 301.64L235.70 301.65L235.80 301.65L235.90 301.65L236.00 301.66L236.10 301.66L236.50 301.67L237.00 301.67L237.50 301.68L238.00 301.68L238.50 301.68L239.00 301.69L239.50 301.69L240.00 301.69L240.50 301.69L241.00 301.69L241.50 301.69L242.00 301.69L242.50 301.69L243.00 301.69L243.50 301.70L244.00 301.70L244.50 301.70L245.00 301.70L245.50 301.70L246.00 301.70L246.50 301.70L247.00 301.70L247.50 301.70L248.00 301.70L248.50 301.70L249.00 301.70L249.50 301.70L250.00 301.70L250.50 301.70L251.00 301.70L251.50 301.70L252.00 301.70L252.50 301.70L253.00 301.70L253.50 301.70L254.00 301.70L254.50 301.70L255.00 301.70L255.50 301.70L256.00 301.70L256.50 301.70L257.00 301.70L257.50 301.70L258.00 301.70L258.50 301.70L259.00 301.70L259.50 301.70L260.00 301.70L260.50 301.70L261.00 301.70L261.50 301.70L262.00 301.70L262.50 301.70L263.00 301.70L263.50 301.70L264.00 301.70L264.50 301.70L265.00 301.70L265.50 301.70L266.00 301.70L266.50 301.70L267.00 301.70L267.50 301.70L268.00 301.70L268.50 301.70L269.00 301.70L269.50 301.70L270.00 301.70L270.50 301.70L271.00 301.70L271.50 301.70L272.00 301.70L272.50 301.70L273.00 301.70L273.50 301.70L274.00 301.70L274.50 301.70L275.00 301.70L275.50 301.70L276.00 301.70L276.50 301.70L277.00 301.70L277.50 301.70L278.00 301.70L278.50 301.70L279.00 301.70L279.50 301.70L280.00 301.70L280.50 301.70L281.00 301.70L281.50 301.70L282.00 301.70L282.50 301.70L283.00 301.70L283.50 301.70L284.00 301.70L284.50 301.70L285.00 301.70L285.50 301.70L286.00 301.70L286.50 301.70L287.00 301.69L287.50 301.69L288.00 301.69L288.50 301.69L289.00 301.69L289.50 301.69L290.00 301.69L290.50 301.69L291.00 301.69L291.50 301.69L292.00 301.68L292.50 301.68L293.00 301.67L293.11 301.67L293.21 301.67L293.31 301.67L293.41 301.67L293.50 301.67L293.61 301.66L293.71 301.66L293.81 301.66L293.91 301.66L294.00 301.66L294.11 301.65L294.21 301.65L294.31 301.65L294.41 301.64L294.50 301.64L294.61 301.63L294.71 301.63L294.81 301.62L294.91 301.62L295.00 301.61L295.11 301.60L295.21 301.59L295.31 301.58L295.41 301.56L295.50 301.54L295.61 301.51L295.71 301.45L295.81 301.34L295.91 301.15L296.00 300.87L296.11 300.31L296.21 299.49L296.31 298.29L296.41 296.64L296.50 294.76L296.61 292.02L296.71 289.28L296.81 286.58L296.91 284.23L297.00 282.69L297.11 281.79L297.21 281.96L297.31 282.92L297.41 284.36L297.50 285.76L297.61 287.29L297.71 288.31L297.81 288.97L297.91 289.38L298.00 289.69L298.11 290.25L298.21 291.07L298.31 292.21L298.41 293.60L298.50 294.96L298.61 296.60L298.71 297.93L298.81 299.04L298.91 299.90L299.00 300.47L299.11 300.94L299.21 301.21L299.31 301.38L299.41 301.47L299.50 301.52L299.61 301.56L299.71 301.58L299.81 301.60L299.91 301.61L300.00 301.61L300.11 301.62L300.21 301.63L300.31 301.63L300.41 301.64L300.50 301.64L300.61 301.65L300.71 301.65L300.81 301.65L300.91 301.66L301.00 301.66L301.11 301.66L301.50 301.67L302.00 301.67L302.50 301.68L303.00 301.68L303.50 301.69L304.00 301.69L304.50 301.69L305.00 301.69L305.50 301.69L306.00 301.69L306.50 301.69L307.00 301.69L307.50 301.69L308.00 301.70L308.50 301.70L309.00 301.70L309.50 301.70L310.00 301.70L310.50 301.70L311.00 301.70L311.50 301.70L312.00 301.70L312.50 301.70L313.00 301.70L313.50 301.70L314.00 301.70L314.50 301.70L315.00 301.70L315.50 301.70L316.00 301.70L316.50 301.70L317.00 301.70L317.50 301.70L318.00 301.70L318.50 301.70L319.00 301.70L319.50 301.70L320.00 301.70L320.50 301.70L321.00 301.70" stroke="#e84e3d" stroke-width="1.6" fill="none" stroke-linejoin="round"/>
<path d="M118.95 97.85V320M128.13 122.35V320M137.96 58.65V320M151.09 43.95V320M232.10 107.65V320M297.11 117.45V320" stroke="#787878" stroke-width="1" stroke-dasharray="2.7 2.2" fill="none"/>
<path d="M430.20 112.55V320M481.50 102.75V320M502.60 102.75V320M525.30 53.75V320M558.40 107.65V320M583.40 107.65V320M611.50 112.55V320" stroke="#787878" stroke-width="1" stroke-dasharray="2.7 2.2" fill="none"/>
<path d="M403.40 113.00C405.33 112.67 411.40 111.63 415.00 111.00C418.60 110.37 422.47 109.65 425.00 109.20C427.53 108.75 427.70 108.37 430.20 108.30C432.70 108.23 435.87 108.72 440.00 108.80C444.13 108.88 450.23 108.83 455.00 108.80C459.77 108.77 465.27 109.18 468.60 108.60C471.93 108.02 473.30 106.47 475.00 105.30C476.70 104.13 477.80 102.38 478.80 101.60C479.80 100.82 480.25 100.60 481.00 100.60C481.75 100.60 482.30 100.90 483.30 101.60C484.30 102.30 485.52 103.83 487.00 104.80C488.48 105.77 490.53 107.37 492.20 107.40C493.87 107.43 495.57 105.97 497.00 105.00C498.43 104.03 499.82 102.30 500.80 101.60C501.78 100.90 502.20 100.75 502.90 100.80C503.60 100.85 504.32 101.53 505.00 101.90C505.68 102.27 506.08 102.77 507.00 103.00C507.92 103.23 509.17 103.55 510.50 103.30C511.83 103.05 513.67 102.30 515.00 101.50C516.33 100.70 517.50 101.92 518.50 98.50C519.50 95.08 520.22 87.25 521.00 81.00C521.78 74.75 522.63 65.57 523.20 61.00C523.77 56.43 524.05 55.10 524.40 53.60C524.75 52.10 525.00 52.00 525.30 52.00C525.60 52.00 525.83 52.10 526.20 53.60C526.57 55.10 526.93 56.27 527.50 61.00C528.07 65.73 528.85 74.75 529.60 82.00C530.35 89.25 530.93 99.92 532.00 104.50C533.07 109.08 534.37 108.47 536.00 109.50C537.63 110.53 539.47 110.70 541.80 110.70C544.13 110.70 547.63 110.02 550.00 109.50C552.37 108.98 554.47 108.03 556.00 107.60C557.53 107.17 557.87 106.78 559.20 106.90C560.53 107.02 562.20 108.12 564.00 108.30C565.80 108.48 568.00 108.00 570.00 108.00C572.00 108.00 574.33 108.47 576.00 108.30C577.67 108.13 578.58 107.45 580.00 107.00C581.42 106.55 582.83 105.47 584.50 105.60C586.17 105.73 587.42 107.28 590.00 107.80C592.58 108.32 596.37 108.43 600.00 108.70C603.63 108.97 606.80 109.13 611.80 109.40C616.80 109.67 623.63 110.03 630.00 110.30C636.37 110.57 642.83 110.82 650.00 111.00C657.17 111.18 669.17 111.33 673.00 111.40" stroke="#4f96d3" stroke-width="1.8" fill="none" stroke-linejoin="round"/>
<path d="M403.40 200.30C405.33 200.05 411.40 199.42 415.00 198.80C418.60 198.18 422.47 197.18 425.00 196.60C427.53 196.02 427.70 195.32 430.20 195.30C432.70 195.28 435.87 196.18 440.00 196.50C444.13 196.82 450.43 197.10 455.00 197.20C459.57 197.30 464.23 197.75 467.40 197.10C470.57 196.45 472.02 194.85 474.00 193.30C475.98 191.75 478.03 188.90 479.30 187.80C480.57 186.70 480.82 186.68 481.60 186.70C482.38 186.72 483.02 187.02 484.00 187.90C484.98 188.78 486.13 190.60 487.50 192.00C488.87 193.40 490.62 196.05 492.20 196.30C493.78 196.55 495.60 194.95 497.00 193.50C498.40 192.05 499.67 188.73 500.60 187.60C501.53 186.47 501.93 186.63 502.60 186.70C503.27 186.77 504.03 187.62 504.60 188.00C505.17 188.38 505.25 188.77 506.00 189.00C506.75 189.23 507.93 189.65 509.10 189.40C510.27 189.15 511.85 188.27 513.00 187.50C514.15 186.73 515.00 187.72 516.00 184.80C517.00 181.88 518.08 177.47 519.00 170.00C519.92 162.53 520.70 147.67 521.50 140.00C522.30 132.33 523.18 127.13 523.80 124.00C524.42 120.87 524.72 121.20 525.20 121.20C525.68 121.20 526.07 120.03 526.70 124.00C527.33 127.97 528.28 135.67 529.00 145.00C529.72 154.33 530.33 171.67 531.00 180.00C531.67 188.33 532.17 191.97 533.00 195.00C533.83 198.03 534.87 197.55 536.00 198.20C537.13 198.85 537.80 198.97 539.80 198.90C541.80 198.83 545.63 198.35 548.00 197.80C550.37 197.25 552.13 196.15 554.00 195.60C555.87 195.05 557.37 194.60 559.20 194.50C561.03 194.40 563.20 194.88 565.00 195.00C566.80 195.12 568.33 195.12 570.00 195.20C571.67 195.28 573.50 195.67 575.00 195.50C576.50 195.33 577.63 194.62 579.00 194.20C580.37 193.78 581.70 192.62 583.20 193.00C584.70 193.38 586.13 195.67 588.00 196.50C589.87 197.33 591.90 197.72 594.40 198.00C596.90 198.28 600.10 198.20 603.00 198.20C605.90 198.20 608.63 197.73 611.80 198.00C614.97 198.27 618.28 199.27 622.00 199.80C625.72 200.33 630.27 200.80 634.10 201.20C637.93 201.60 641.68 201.92 645.00 202.20C648.32 202.48 651.00 202.83 654.00 202.90C657.00 202.97 659.83 202.68 663.00 202.60C666.17 202.52 671.33 202.43 673.00 202.40" stroke="#53992e" stroke-width="1.8" fill="none" stroke-linejoin="round"/>
<path d="M403.40 300.20C403.83 300.03 405.05 299.65 406.00 299.20C406.95 298.75 408.08 297.58 409.10 297.50C410.12 297.42 410.98 299.12 412.10 298.70C413.22 298.28 414.82 295.37 415.80 295.00C416.78 294.63 417.25 296.05 418.00 296.50C418.75 296.95 419.47 298.20 420.30 297.70C421.13 297.20 422.18 294.53 423.00 293.50C423.82 292.47 424.22 291.67 425.20 291.50C426.18 291.33 427.45 292.70 428.90 292.50C430.35 292.30 432.45 291.53 433.90 290.30C435.35 289.07 436.37 285.02 437.60 285.10C438.83 285.18 440.05 290.18 441.30 290.80C442.55 291.42 443.73 289.00 445.10 288.80C446.47 288.60 448.27 289.07 449.50 289.60C450.73 290.13 451.38 292.22 452.50 292.00C453.62 291.78 455.17 288.70 456.20 288.30C457.23 287.90 457.73 289.72 458.70 289.60C459.67 289.48 460.75 287.40 462.00 287.60C463.25 287.80 464.88 290.57 466.20 290.80C467.52 291.03 468.87 289.42 469.90 289.00C470.93 288.58 471.37 289.37 472.40 288.30C473.43 287.23 474.65 283.75 476.10 282.60C477.55 281.45 479.87 281.28 481.10 281.40C482.33 281.52 482.47 281.93 483.50 283.30C484.53 284.67 486.18 288.35 487.30 289.60C488.42 290.85 489.05 289.57 490.20 290.80C491.35 292.03 493.03 296.38 494.20 297.00C495.37 297.62 496.08 295.67 497.20 294.50C498.32 293.33 499.33 290.70 500.90 290.00C502.47 289.30 504.95 289.55 506.60 290.30C508.25 291.05 509.55 294.62 510.80 294.50C512.05 294.38 513.07 290.42 514.10 289.60C515.13 288.78 516.10 291.27 517.00 289.60C517.90 287.93 518.67 287.47 519.50 279.60C520.33 271.73 521.25 254.00 522.00 242.40C522.75 230.80 523.50 216.97 524.00 210.00C524.50 203.03 524.67 200.60 525.00 200.60C525.33 200.60 525.60 203.43 526.00 210.00C526.40 216.57 526.75 228.33 527.40 240.00C528.05 251.67 529.07 270.90 529.90 280.00C530.73 289.10 531.37 291.55 532.40 294.60C533.43 297.65 534.87 297.68 536.10 298.30C537.33 298.92 538.57 298.92 539.80 298.30C541.03 297.68 542.25 295.02 543.50 294.60C544.75 294.18 545.85 295.80 547.30 295.80C548.75 295.80 550.97 296.05 552.20 294.60C553.43 293.15 553.87 292.07 554.70 287.10C555.53 282.13 556.55 269.77 557.20 264.80C557.85 259.83 558.10 257.30 558.60 257.30C559.10 257.30 559.62 260.25 560.20 264.80C560.78 269.35 561.37 280.68 562.10 284.60C562.83 288.52 563.57 287.38 564.60 288.30C565.63 289.22 567.27 289.97 568.30 290.10C569.33 290.23 569.75 288.77 570.80 289.10C571.85 289.43 573.15 291.52 574.60 292.10C576.05 292.68 578.18 293.02 579.50 292.60C580.82 292.18 581.25 289.60 582.50 289.60C583.75 289.60 585.63 291.15 587.00 292.60C588.37 294.05 589.47 297.23 590.70 298.30C591.93 299.37 593.28 298.72 594.40 299.00C595.52 299.28 596.37 300.25 597.40 300.00C598.43 299.75 599.23 297.87 600.60 297.50C601.97 297.13 604.15 297.63 605.60 297.80C607.05 297.97 608.07 299.03 609.30 298.50C610.53 297.97 611.77 295.05 613.00 294.60C614.23 294.15 615.25 295.52 616.70 295.80C618.15 296.08 620.25 296.30 621.70 296.30C623.15 296.30 624.17 295.80 625.40 295.80C626.63 295.80 627.85 296.58 629.10 296.30C630.35 296.02 631.65 294.18 632.90 294.10C634.15 294.02 635.15 295.40 636.60 295.80C638.05 296.20 640.15 296.08 641.60 296.50C643.05 296.92 643.87 298.13 645.30 298.30C646.73 298.47 648.75 297.72 650.20 297.50C651.65 297.28 652.75 297.37 654.00 297.00C655.25 296.63 656.47 295.42 657.70 295.30C658.93 295.18 660.17 296.30 661.40 296.30C662.63 296.30 663.87 295.58 665.10 295.30C666.33 295.02 667.55 294.65 668.80 294.60C670.05 294.55 671.97 294.93 672.60 295.00" stroke="#e84e3d" stroke-width="1.8" fill="none" stroke-linejoin="round"/>
<path d="M34.50 320.5v-6M34.50 0.5v6M38.50 320.5v-3M38.50 0.5v3M41.50 320.5v-3M41.50 0.5v3M45.50 320.5v-3M45.50 0.5v3M48.50 320.5v-3M48.50 0.5v3M52.50 320.5v-3M52.50 0.5v3M56.50 320.5v-3M56.50 0.5v3M59.50 320.5v-3M59.50 0.5v3M63.50 320.5v-3M63.50 0.5v3M66.50 320.5v-3M66.50 0.5v3M70.50 320.5v-6M70.50 0.5v6M73.50 320.5v-3M73.50 0.5v3M77.50 320.5v-3M77.50 0.5v3M81.50 320.5v-3M81.50 0.5v3M84.50 320.5v-3M84.50 0.5v3M88.50 320.5v-3M88.50 0.5v3M91.50 320.5v-3M91.50 0.5v3M95.50 320.5v-3M95.50 0.5v3M99.50 320.5v-3M99.50 0.5v3M102.50 320.5v-3M102.50 0.5v3M106.50 320.5v-6M106.50 0.5v6M109.50 320.5v-3M109.50 0.5v3M113.50 320.5v-3M113.50 0.5v3M117.50 320.5v-3M117.50 0.5v3M120.50 320.5v-3M120.50 0.5v3M124.50 320.5v-3M124.50 0.5v3M127.50 320.5v-3M127.50 0.5v3M131.50 320.5v-3M131.50 0.5v3M134.50 320.5v-3M134.50 0.5v3M138.50 320.5v-3M138.50 0.5v3M142.50 320.5v-6M142.50 0.5v6M145.50 320.5v-3M145.50 0.5v3M149.50 320.5v-3M149.50 0.5v3M152.50 320.5v-3M152.50 0.5v3M156.50 320.5v-3M156.50 0.5v3M160.50 320.5v-3M160.50 0.5v3M163.50 320.5v-3M163.50 0.5v3M167.50 320.5v-3M167.50 0.5v3M170.50 320.5v-3M170.50 0.5v3M174.50 320.5v-3M174.50 0.5v3M178.50 320.5v-6M178.50 0.5v6M181.50 320.5v-3M181.50 0.5v3M185.50 320.5v-3M185.50 0.5v3M188.50 320.5v-3M188.50 0.5v3M192.50 320.5v-3M192.50 0.5v3M195.50 320.5v-3M195.50 0.5v3M199.50 320.5v-3M199.50 0.5v3M203.50 320.5v-3M203.50 0.5v3M206.50 320.5v-3M206.50 0.5v3M210.50 320.5v-3M210.50 0.5v3M213.50 320.5v-6M213.50 0.5v6M217.50 320.5v-3M217.50 0.5v3M221.50 320.5v-3M221.50 0.5v3M224.50 320.5v-3M224.50 0.5v3M228.50 320.5v-3M228.50 0.5v3M231.50 320.5v-3M231.50 0.5v3M235.50 320.5v-3M235.50 0.5v3M238.50 320.5v-3M238.50 0.5v3M242.50 320.5v-3M242.50 0.5v3M246.50 320.5v-3M246.50 0.5v3M249.50 320.5v-6M249.50 0.5v6M253.50 320.5v-3M253.50 0.5v3M256.50 320.5v-3M256.50 0.5v3M260.50 320.5v-3M260.50 0.5v3M264.50 320.5v-3M264.50 0.5v3M267.50 320.5v-3M267.50 0.5v3M271.50 320.5v-3M271.50 0.5v3M274.50 320.5v-3M274.50 0.5v3M278.50 320.5v-3M278.50 0.5v3M282.50 320.5v-3M282.50 0.5v3M285.50 320.5v-6M285.50 0.5v6M289.50 320.5v-3M289.50 0.5v3M292.50 320.5v-3M292.50 0.5v3M296.50 320.5v-3M296.50 0.5v3M299.50 320.5v-3M299.50 0.5v3M303.50 320.5v-3M303.50 0.5v3M307.50 320.5v-3M307.50 0.5v3M310.50 320.5v-3M310.50 0.5v3M314.50 320.5v-3M314.50 0.5v3M317.50 320.5v-3M317.50 0.5v3M321.50 320.5v-6M321.50 0.5v6M34.5 4.50h3M321.5 4.50h-3M34.5 8.50h3M321.5 8.50h-3M34.5 12.50h3M321.5 12.50h-3M34.5 17.50h3M321.5 17.50h-3M34.5 21.50h3M321.5 21.50h-3M34.5 25.50h3M321.5 25.50h-3M34.5 30.50h3M321.5 30.50h-3M34.5 34.50h3M321.5 34.50h-3M34.5 38.50h3M321.5 38.50h-3M34.5 43.50h6M321.5 43.50h-6M34.5 47.50h3M321.5 47.50h-3M34.5 51.50h3M321.5 51.50h-3M34.5 56.50h3M321.5 56.50h-3M34.5 60.50h3M321.5 60.50h-3M34.5 64.50h3M321.5 64.50h-3M34.5 69.50h3M321.5 69.50h-3M34.5 73.50h3M321.5 73.50h-3M34.5 77.50h3M321.5 77.50h-3M34.5 82.50h3M321.5 82.50h-3M34.5 86.50h6M321.5 86.50h-6M34.5 90.50h3M321.5 90.50h-3M34.5 95.50h3M321.5 95.50h-3M34.5 99.50h3M321.5 99.50h-3M34.5 103.50h3M321.5 103.50h-3M34.5 108.50h3M321.5 108.50h-3M34.5 112.50h3M321.5 112.50h-3M34.5 116.50h3M321.5 116.50h-3M34.5 121.50h3M321.5 121.50h-3M34.5 125.50h3M321.5 125.50h-3M34.5 129.50h6M321.5 129.50h-6M34.5 134.50h3M321.5 134.50h-3M34.5 138.50h3M321.5 138.50h-3M34.5 142.50h3M321.5 142.50h-3M34.5 147.50h3M321.5 147.50h-3M34.5 151.50h3M321.5 151.50h-3M34.5 155.50h3M321.5 155.50h-3M34.5 160.50h3M321.5 160.50h-3M34.5 164.50h3M321.5 164.50h-3M34.5 168.50h3M321.5 168.50h-3M34.5 173.50h6M321.5 173.50h-6M34.5 177.50h3M321.5 177.50h-3M34.5 181.50h3M321.5 181.50h-3M34.5 186.50h3M321.5 186.50h-3M34.5 190.50h3M321.5 190.50h-3M34.5 194.50h3M321.5 194.50h-3M34.5 199.50h3M321.5 199.50h-3M34.5 203.50h3M321.5 203.50h-3M34.5 207.50h3M321.5 207.50h-3M34.5 212.50h3M321.5 212.50h-3M34.5 216.50h6M321.5 216.50h-6M34.5 220.50h3M321.5 220.50h-3M34.5 225.50h3M321.5 225.50h-3M34.5 229.50h3M321.5 229.50h-3M34.5 233.50h3M321.5 233.50h-3M34.5 238.50h3M321.5 238.50h-3M34.5 242.50h3M321.5 242.50h-3M34.5 246.50h3M321.5 246.50h-3M34.5 251.50h3M321.5 251.50h-3M34.5 255.50h3M321.5 255.50h-3M34.5 259.50h6M321.5 259.50h-6M34.5 264.50h3M321.5 264.50h-3M34.5 268.50h3M321.5 268.50h-3M34.5 272.50h3M321.5 272.50h-3M34.5 277.50h3M321.5 277.50h-3M34.5 281.50h3M321.5 281.50h-3M34.5 285.50h3M321.5 285.50h-3M34.5 290.50h3M321.5 290.50h-3M34.5 294.50h3M321.5 294.50h-3M34.5 298.50h3M321.5 298.50h-3M34.5 303.50h6M321.5 303.50h-6M34.5 307.50h3M321.5 307.50h-3M34.5 311.50h3M321.5 311.50h-3M34.5 315.50h3M321.5 315.50h-3" stroke="#5a5a5a" stroke-width="1" fill="none"/>
<rect x="34.5" y="0.5" width="287.0" height="320.0" stroke="#5a5a5a" stroke-width="1" fill="none"/>
<path d="M388.50 320.5v-6M388.50 2.5v6M392.50 320.5v-3M392.50 2.5v3M396.50 320.5v-3M396.50 2.5v3M400.50 320.5v-3M400.50 2.5v3M404.50 320.5v-3M404.50 2.5v3M408.50 320.5v-3M408.50 2.5v3M412.50 320.5v-3M412.50 2.5v3M417.50 320.5v-3M417.50 2.5v3M421.50 320.5v-3M421.50 2.5v3M425.50 320.5v-3M425.50 2.5v3M429.50 320.5v-6M429.50 2.5v6M433.50 320.5v-3M433.50 2.5v3M437.50 320.5v-3M437.50 2.5v3M441.50 320.5v-3M441.50 2.5v3M445.50 320.5v-3M445.50 2.5v3M449.50 320.5v-3M449.50 2.5v3M453.50 320.5v-3M453.50 2.5v3M457.50 320.5v-3M457.50 2.5v3M461.50 320.5v-3M461.50 2.5v3M465.50 320.5v-3M465.50 2.5v3M469.50 320.5v-6M469.50 2.5v6M474.50 320.5v-3M474.50 2.5v3M478.50 320.5v-3M478.50 2.5v3M482.50 320.5v-3M482.50 2.5v3M486.50 320.5v-3M486.50 2.5v3M490.50 320.5v-3M490.50 2.5v3M494.50 320.5v-3M494.50 2.5v3M498.50 320.5v-3M498.50 2.5v3M502.50 320.5v-3M502.50 2.5v3M506.50 320.5v-3M506.50 2.5v3M510.50 320.5v-6M510.50 2.5v6M514.50 320.5v-3M514.50 2.5v3M518.50 320.5v-3M518.50 2.5v3M522.50 320.5v-3M522.50 2.5v3M526.50 320.5v-3M526.50 2.5v3M531.50 320.5v-3M531.50 2.5v3M535.50 320.5v-3M535.50 2.5v3M539.50 320.5v-3M539.50 2.5v3M543.50 320.5v-3M543.50 2.5v3M547.50 320.5v-3M547.50 2.5v3M551.50 320.5v-6M551.50 2.5v6M555.50 320.5v-3M555.50 2.5v3M559.50 320.5v-3M559.50 2.5v3M563.50 320.5v-3M563.50 2.5v3M567.50 320.5v-3M567.50 2.5v3M571.50 320.5v-3M571.50 2.5v3M575.50 320.5v-3M575.50 2.5v3M579.50 320.5v-3M579.50 2.5v3M583.50 320.5v-3M583.50 2.5v3M588.50 320.5v-3M588.50 2.5v3M592.50 320.5v-6M592.50 2.5v6M596.50 320.5v-3M596.50 2.5v3M600.50 320.5v-3M600.50 2.5v3M604.50 320.5v-3M604.50 2.5v3M608.50 320.5v-3M608.50 2.5v3M612.50 320.5v-3M612.50 2.5v3M616.50 320.5v-3M616.50 2.5v3M620.50 320.5v-3M620.50 2.5v3M624.50 320.5v-3M624.50 2.5v3M628.50 320.5v-3M628.50 2.5v3M632.50 320.5v-6M632.50 2.5v6M636.50 320.5v-3M636.50 2.5v3M640.50 320.5v-3M640.50 2.5v3M645.50 320.5v-3M645.50 2.5v3M649.50 320.5v-3M649.50 2.5v3M653.50 320.5v-3M653.50 2.5v3M657.50 320.5v-3M657.50 2.5v3M661.50 320.5v-3M661.50 2.5v3M665.50 320.5v-3M665.50 2.5v3M669.50 320.5v-3M669.50 2.5v3M673.50 320.5v-6M673.50 2.5v6M388.5 6.50h3M673.5 6.50h-3M388.5 11.50h3M673.5 11.50h-3M388.5 16.50h3M673.5 16.50h-3M388.5 21.50h3M673.5 21.50h-3M388.5 26.50h3M673.5 26.50h-3M388.5 31.50h3M673.5 31.50h-3M388.5 36.50h3M673.5 36.50h-3M388.5 41.50h3M673.5 41.50h-3M388.5 46.50h3M673.5 46.50h-3M388.5 51.50h6M673.5 51.50h-6M388.5 56.50h3M673.5 56.50h-3M388.5 61.50h3M673.5 61.50h-3M388.5 66.50h3M673.5 66.50h-3M388.5 71.50h3M673.5 71.50h-3M388.5 76.50h3M673.5 76.50h-3M388.5 81.50h3M673.5 81.50h-3M388.5 86.50h3M673.5 86.50h-3M388.5 91.50h3M673.5 91.50h-3M388.5 96.50h3M673.5 96.50h-3M388.5 101.50h6M673.5 101.50h-6M388.5 106.50h3M673.5 106.50h-3M388.5 111.50h3M673.5 111.50h-3M388.5 116.50h3M673.5 116.50h-3M388.5 121.50h3M673.5 121.50h-3M388.5 126.50h3M673.5 126.50h-3M388.5 131.50h3M673.5 131.50h-3M388.5 136.50h3M673.5 136.50h-3M388.5 141.50h3M673.5 141.50h-3M388.5 146.50h3M673.5 146.50h-3M388.5 151.50h6M673.5 151.50h-6M388.5 155.50h3M673.5 155.50h-3M388.5 160.50h3M673.5 160.50h-3M388.5 165.50h3M673.5 165.50h-3M388.5 170.50h3M673.5 170.50h-3M388.5 175.50h3M673.5 175.50h-3M388.5 180.50h3M673.5 180.50h-3M388.5 185.50h3M673.5 185.50h-3M388.5 190.50h3M673.5 190.50h-3M388.5 195.50h3M673.5 195.50h-3M388.5 200.50h6M673.5 200.50h-6M388.5 205.50h3M673.5 205.50h-3M388.5 210.50h3M673.5 210.50h-3M388.5 215.50h3M673.5 215.50h-3M388.5 220.50h3M673.5 220.50h-3M388.5 225.50h3M673.5 225.50h-3M388.5 230.50h3M673.5 230.50h-3M388.5 235.50h3M673.5 235.50h-3M388.5 240.50h3M673.5 240.50h-3M388.5 245.50h3M673.5 245.50h-3M388.5 250.50h6M673.5 250.50h-6M388.5 255.50h3M673.5 255.50h-3M388.5 260.50h3M673.5 260.50h-3M388.5 265.50h3M673.5 265.50h-3M388.5 270.50h3M673.5 270.50h-3M388.5 275.50h3M673.5 275.50h-3M388.5 280.50h3M673.5 280.50h-3M388.5 285.50h3M673.5 285.50h-3M388.5 290.50h3M673.5 290.50h-3M388.5 295.50h3M673.5 295.50h-3M388.5 300.50h6M673.5 300.50h-6M388.5 305.50h3M673.5 305.50h-3M388.5 310.50h3M673.5 310.50h-3M388.5 315.50h3M673.5 315.50h-3" stroke="#5a5a5a" stroke-width="1" fill="none"/>
<rect x="388.5" y="2.5" width="285.0" height="318.0" stroke="#5a5a5a" stroke-width="1" fill="none"/>
<text x="34.50" y="338.3" font-size="14.5" text-anchor="middle" fill="#111" stroke="#111" stroke-width="0.3">20</text>
<text x="70.38" y="338.3" font-size="14.5" text-anchor="middle" fill="#111" stroke="#111" stroke-width="0.3">25</text>
<text x="106.25" y="338.3" font-size="14.5" text-anchor="middle" fill="#111" stroke="#111" stroke-width="0.3">30</text>
<text x="142.12" y="338.3" font-size="14.5" text-anchor="middle" fill="#111" stroke="#111" stroke-width="0.3">35</text>
<text x="178.00" y="338.3" font-size="14.5" text-anchor="middle" fill="#111" stroke="#111" stroke-width="0.3">40</text>
<text x="213.88" y="338.3" font-size="14.5" text-anchor="middle" fill="#111" stroke="#111" stroke-width="0.3">45</text>
<text x="249.75" y="338.3" font-size="14.5" text-anchor="middle" fill="#111" stroke="#111" stroke-width="0.3">50</text>
<text x="285.62" y="338.3" font-size="14.5" text-anchor="middle" fill="#111" stroke="#111" stroke-width="0.3">55</text>
<text x="321.50" y="338.3" font-size="14.5" text-anchor="middle" fill="#111" stroke="#111" stroke-width="0.3">60</text>
<text x="388.50" y="338.3" font-size="14.5" text-anchor="middle" fill="#111" stroke="#111" stroke-width="0.3">100</text>
<text x="429.21" y="338.3" font-size="14.5" text-anchor="middle" fill="#111" stroke="#111" stroke-width="0.3">200</text>
<text x="469.93" y="338.3" font-size="14.5" text-anchor="middle" fill="#111" stroke="#111" stroke-width="0.3">300</text>
<text x="510.64" y="338.3" font-size="14.5" text-anchor="middle" fill="#111" stroke="#111" stroke-width="0.3">400</text>
<text x="551.36" y="338.3" font-size="14.5" text-anchor="middle" fill="#111" stroke="#111" stroke-width="0.3">500</text>
<text x="592.07" y="338.3" font-size="14.5" text-anchor="middle" fill="#111" stroke="#111" stroke-width="0.3">600</text>
<text x="632.79" y="338.3" font-size="14.5" text-anchor="middle" fill="#111" stroke="#111" stroke-width="0.3">700</text>
<text x="673.50" y="338.3" font-size="14.5" text-anchor="middle" fill="#111" stroke="#111" stroke-width="0.3">800</text>
<text x="177.7" y="359.9" font-size="15" text-anchor="middle" fill="#111" stroke="#111" stroke-width="0.3">2-theta (degree)</text>
<text x="467.3" y="359.9" font-size="15" fill="#111" stroke="#111" stroke-width="0.3">Raman shift (cm<tspan font-size="10.5" dy="-6">&#8722;1</tspan><tspan dy="6">)</tspan></text>
<text transform="translate(22,160) rotate(-90)" font-size="15" text-anchor="middle" fill="#111" stroke="#111" stroke-width="0.3">Intensity (a.u.)</text>
<text transform="translate(375,161) rotate(-90)" font-size="15" text-anchor="middle" fill="#111" stroke="#111" stroke-width="0.3">Normalized intensity (a.u.)</text>
<text x="54" y="118.7" font-size="12.7" fill="#4f96d3" stroke="#4f96d3" stroke-width="0.2">1200 °C</text>
<text x="54.5" y="205.6" font-size="12.7" fill="#53992e" stroke="#53992e" stroke-width="0.2">1100 °C</text>
<text x="54.2" y="292" font-size="12.7" fill="#e84e3d" stroke="#e84e3d" stroke-width="0.2">1000 °C</text>
<text x="618.5" y="102.5" font-size="12.7" fill="#4f96d3" stroke="#4f96d3" stroke-width="0.2">1200 °C</text>
<text x="621" y="192.2" font-size="12.7" fill="#53992e" stroke="#53992e" stroke-width="0.2">1100 °C</text>
<text x="621" y="285.9" font-size="12.7" fill="#e84e3d" stroke="#e84e3d" stroke-width="0.2">1000 °C</text>
<text transform="translate(121.8,94.3) rotate(-90)" font-size="12.5" fill="#8a8a8a" font-weight="normal">(100)</text>
<text transform="translate(141.3,50.0) rotate(-90)" font-size="12.5" fill="#8a8a8a" font-weight="normal">(002)</text>
<text transform="translate(156,40.3) rotate(-90)" font-size="12.5" fill="#8a8a8a" font-weight="normal">(101)</text>
<text transform="translate(236.2,99.6) rotate(-90)" font-size="12.5" fill="#8a8a8a" font-weight="normal">(102)</text>
<text transform="translate(301.8,106.9) rotate(-90)" font-size="12.5" fill="#8a8a8a" font-weight="normal">(110)</text>
<text transform="translate(130.6,117.4) rotate(-90)" font-size="13.4" fill="#c4632c">SiO<tspan font-size="9.6" dy="5.0">2</tspan></text>
<text transform="translate(434.2,103.6) rotate(-90)" font-size="12.6" font-weight="bold" fill="#9e9e9e"><tspan dy="0">2E</tspan><tspan font-size="9.4" font-weight="normal" dy="4.3">2L</tspan></text>
<text transform="translate(484.2,95.5) rotate(-90)" font-size="12.6" font-weight="bold" fill="#9e9e9e"><tspan dy="0">3E</tspan><tspan font-size="9.4" font-weight="normal" dy="4.3">2H</tspan><tspan dy="-4.3">-E</tspan><tspan font-size="9.4" font-weight="normal" dy="4.3">2L</tspan></text>
<text transform="translate(505.7,95.5) rotate(-90)" font-size="12.6" font-weight="bold" fill="#9e9e9e"><tspan dy="0">A</tspan><tspan font-size="9.4" font-weight="normal" dy="4.3">1</tspan><tspan dy="-4.3">(TO)</tspan></text>
<text transform="translate(528.7,46.3) rotate(-90)" font-size="12.6" font-weight="bold" fill="#9e9e9e"><tspan dy="0">E</tspan><tspan font-size="9.4" font-weight="normal" dy="4.3">2H</tspan></text>
<text transform="translate(561.7,103.6) rotate(-90)" font-size="12.6" font-weight="bold" fill="#bf9474"><tspan dy="0">Si</tspan></text>
<text transform="translate(586.4,102.5) rotate(-90)" font-size="12.6" font-weight="bold" fill="#9e9e9e"><tspan dy="0">A</tspan><tspan font-size="9.4" font-weight="normal" dy="4.3">1</tspan><tspan dy="-4.3">(LO)/E</tspan><tspan font-size="9.4" font-weight="normal" dy="4.3">1</tspan><tspan dy="-4.3">(LO)</tspan></text>
<text transform="translate(613.0,102.5) rotate(-90)" font-size="12.6" font-weight="bold" fill="#9e9e9e"><tspan dy="0">2(E</tspan><tspan font-size="9.4" font-weight="normal" dy="4.3">2H</tspan><tspan dy="-4.3">-E</tspan><tspan font-size="9.4" font-weight="normal" dy="4.3">2L</tspan><tspan dy="-4.3">)</tspan></text>
<circle cx="15.6" cy="16" r="14.8" stroke="#e2483d" stroke-width="1.3" fill="none"/>
<text x="15.9" y="20.4" font-size="21" font-weight="bold" text-anchor="middle" fill="#000">a</text>
<circle cx="364.2" cy="15.8" r="15" stroke="#e2483d" stroke-width="1.3" fill="none"/>
<text x="366.2" y="23.1" font-size="21" font-weight="bold" text-anchor="middle" fill="#000">b</text>
</svg>
</body></html>
